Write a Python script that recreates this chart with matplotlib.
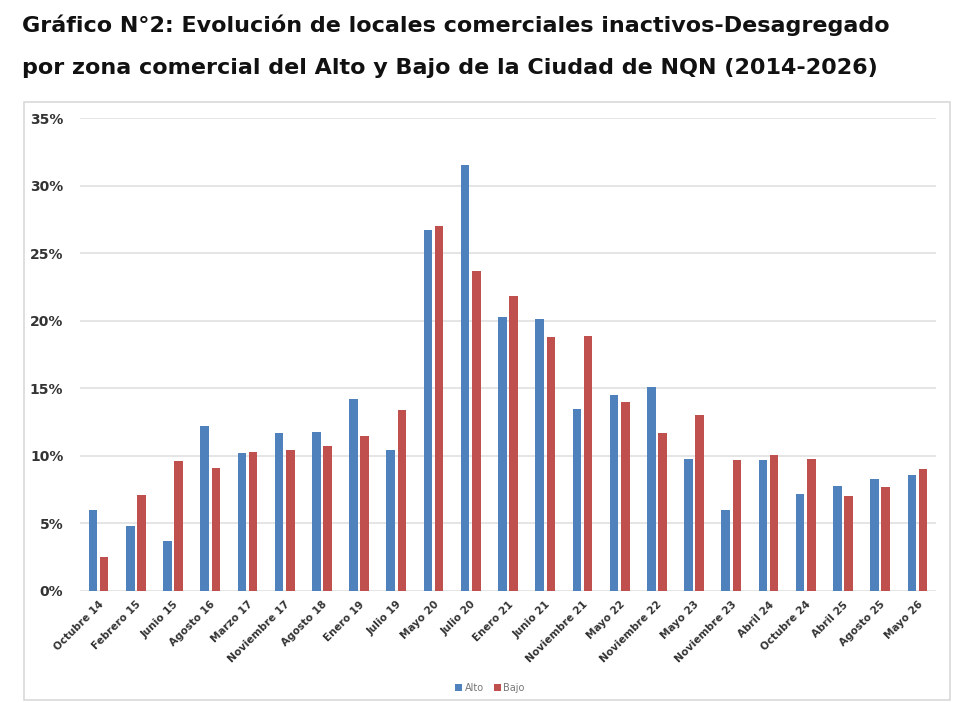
import matplotlib
matplotlib.use("Agg")
import matplotlib.pyplot as plt
import numpy as np
from matplotlib.patches import Rectangle
from matplotlib.ticker import FuncFormatter

categories = ["Octubre 14", "Febrero 15", "Junio 15", "Agosto 16", "Marzo 17",
              "Noviembre 17", "Agosto 18", "Enero 19", "Julio 19", "Mayo 20",
              "Julio 20", "Enero 21", "Junio 21", "Noviembre 21", "Mayo 22",
              "Noviembre 22", "Mayo 23", "Noviembre 23", "Abril 24", "Octubre 24",
              "Abril 25", "Agosto 25", "Mayo 26"]
alto = [6.0, 4.8, 3.7, 12.2, 10.2, 11.7, 11.8, 14.2, 10.4, 26.7, 31.5, 20.3,
        20.1, 13.5, 14.5, 15.1, 9.8, 6.0, 9.7, 7.2, 7.8, 8.3, 8.6]
bajo = [2.5, 7.1, 9.6, 9.1, 10.3, 10.4, 10.7, 11.5, 13.4, 27.0, 23.7, 21.8,
        18.8, 18.9, 14.0, 11.7, 13.0, 9.7, 10.1, 9.8, 7.0, 7.7, 9.0]
yticks = [0, 5, 10, 15, 20, 25, 30, 35]
title_lines = ["Gráfico N°2: Evolución de locales comerciales inactivos-Desagregado",
               "por zona comercial del Alto y Bajo de la Ciudad de NQN (2014-2026)"]

W, H = 964, 703
fig = plt.figure(figsize=(W / 100, H / 100), dpi=100)
fig.patch.set_facecolor("white")

# chart area border
fig.patches.append(Rectangle((24 / W, 1 - 700 / H), (950 - 24) / W, (700 - 102) / H,
                             transform=fig.transFigure, fill=False,
                             edgecolor="#D9D9D9", linewidth=1.2))

ax = fig.add_axes([80 / W, 1 - 591 / H, (936 - 80) / W, (591 - 118) / H])
x = np.arange(len(categories))
bw = 0.23
off = 0.15
ax.bar(x - off, alto, width=bw, color="#4F81BD", label="Alto", zorder=3)
ax.bar(x + off, bajo, width=bw, color="#C0504D", label="Bajo", zorder=3)

ax.set_xlim(-0.5, len(categories) - 0.5)
ax.set_ylim(0, 35)
ax.set_yticks(yticks)
ax.yaxis.set_major_formatter(FuncFormatter(lambda v, p: f"{int(v)}%"))
ax.grid(axis="y", color="#E3E3E3", linewidth=1.3, zorder=0)
for s in ax.spines.values():
    s.set_visible(False)
ax.tick_params(axis="both", length=0)
ax.tick_params(axis="y", pad=12)
for lab in ax.get_yticklabels():
    lab.set_fontweight("bold")
    lab.set_fontsize(10)
    lab.set_color("#333333")
ax.set_xticks(x)
ax.set_xticklabels(categories, rotation=45, ha="right", rotation_mode="anchor",
                   fontsize=7.5, fontweight="bold", color="#333333")
ax.tick_params(axis="x", pad=6)

fig.text(22 / W, 1 - 25 / H, title_lines[0], fontsize=16, fontweight="bold",
         color="#111111", va="center", ha="left")
fig.text(22 / W, 1 - 68 / H, title_lines[1], fontsize=16, fontweight="bold",
         color="#111111", va="center", ha="left")

leg = fig.legend(loc="center", bbox_to_anchor=(490 / W, 1 - 688 / H), ncol=2,
                 frameon=False, fontsize=7, handlelength=0.7, handleheight=0.7,
                 columnspacing=1.0, handletextpad=0.3)
for t in leg.get_texts():
    t.set_color("#777777")

fig.savefig("out.png", dpi=100, facecolor="white")
